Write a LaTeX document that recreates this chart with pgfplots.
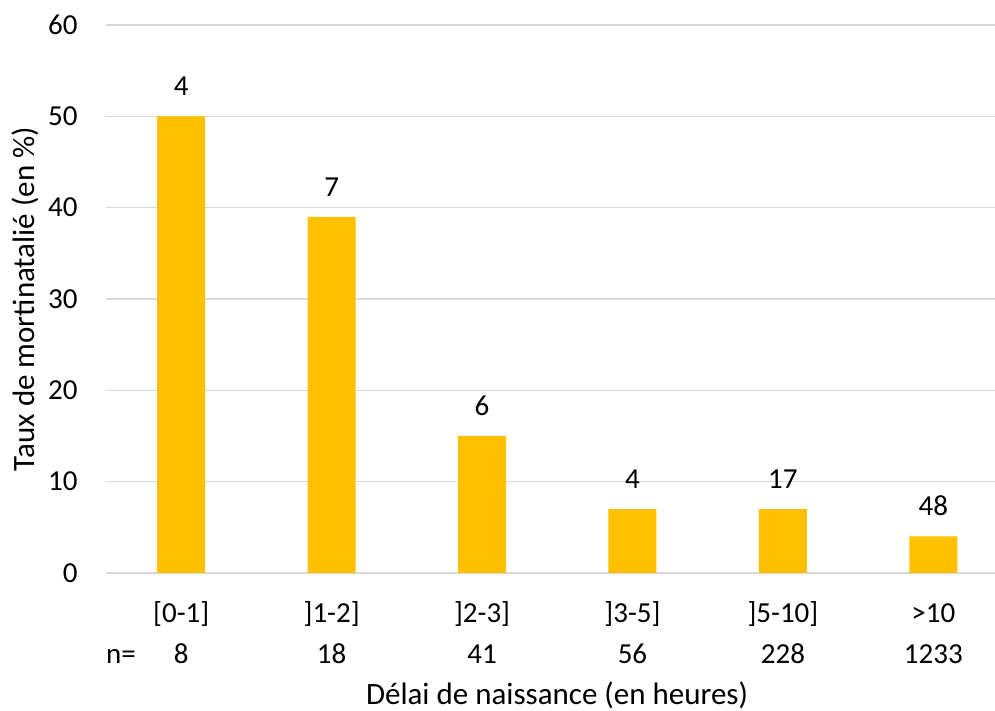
\documentclass[border=0pt]{standalone}
\usepackage{pgfplots}
\pgfplotsset{compat=1.18}
\usepackage{fontspec}
\setmainfont{Carlito}
\definecolor{barc}{HTML}{FFC000}
\definecolor{gridc}{HTML}{D9D9D9}
\begin{document}
\fontsize{14.5bp}{17bp}\selectfont
\begin{tikzpicture}
\useasboundingbox (0,0) rectangle (497.5bp,355.5bp);
\begin{axis}[
  at={(53bp,69bp)}, anchor=south west,
  scale only axis, width=444.5bp, height=274bp,
  xmin=-0.5, xmax=5.41, ymin=0, ymax=60,
  ytick={0,10,...,60},
  /pgf/number format/assume math mode=true,
  ymajorgrids, grid style={gridc, line width=0.8bp},
  axis line style={draw=none},
  major tick length=0pt,
  tick style={draw=none},
  xtick={0,...,5},
  xticklabels={{[0-1]},{]1-2]},{]2-3]},{]3-5]},{]5-10]},{>10}},
  xticklabel style={anchor=base, inner sep=0pt, yshift=-24.5bp},
  yticklabel style={anchor=east, inner sep=0pt, xshift=-14bp},
  extra x ticks={0,...,5},
  extra x tick labels={8,18,41,56,228,1233},
  extra x tick style={grid=none, xticklabel style={yshift=-20.5bp}},
  ticklabel style={font=\fontsize{14.5bp}{17bp}\selectfont},
]
\addplot[ybar, bar width=24bp, fill=barc, draw=none,
  nodes near coords, point meta=explicit symbolic,
  every node near coord/.append style={inner sep=0pt, yshift=10bp, text=black, font=\fontsize{14.5bp}{17bp}\selectfont}]
  table[x=x, y=y, meta=lab]{
x y lab
0 50 4
1 39 7
2 15 6
3 7 4
4 7 17
5 4 48
};
\end{axis}
\node[anchor=base] at (60.5bp,24bp) {n=};
\node[anchor=base, font=\fontsize{15.5bp}{18bp}\selectfont] at (278.5bp,3.5bp) {Délai de naissance (en heures)};
\node[rotate=90, anchor=center, font=\fontsize{15.5bp}{18bp}\selectfont] at (12.5bp,206bp) {Taux de mortinatalié (en \%)};
\end{tikzpicture}
\end{document}
